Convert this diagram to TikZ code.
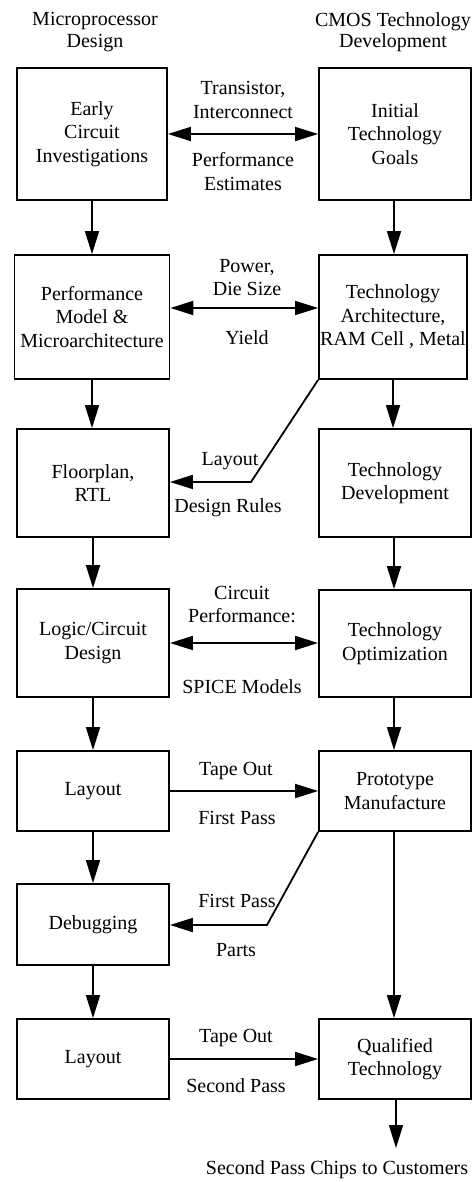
\documentclass[tikz,border=0pt]{standalone}
\usepackage{fontspec}
\setmainfont{Liberation Serif}
\usetikzlibrary{arrows.meta}
\begin{document}
\begin{tikzpicture}[x=1pt,y=-1pt,
  box/.style={draw, line width=1.8pt, inner sep=0pt, align=center, font=\fontsize{20}{23.5}\selectfont},
  lbl/.style={inner sep=0pt, align=center, font=\fontsize{20}{23.5}\selectfont},
  hdr/.style={inner sep=0pt, align=center, font=\fontsize{20}{21.5}\selectfont},
  conn/.style={line width=1.8pt, -{Triangle[length=23pt,width=14pt]}},
  biconn/.style={line width=1.8pt, {Triangle[length=23pt,width=14pt]}-{Triangle[length=23pt,width=14pt]}}]
\useasboundingbox (0,0) rectangle (476,1182);

% headers
\node[hdr] (h1) at (95,32) {Microprocessor\\Design};
\node[hdr] (h2) at (393,32) {CMOS Technology\\Development};

% left column
\node[box, minimum width=150pt, minimum height=132pt] (L1) at (92,134) {Early\\Circuit\\Investigations};
\node[box, minimum width=155pt, minimum height=124pt] (L2) at (92,317) {Performance\\Model \&\\Microarchitecture};
\node[box, minimum width=152pt, minimum height=108pt] (L3) at (93,483) {Floorplan,\\RTL};
\node[box, minimum width=152pt, minimum height=108pt] (L4) at (93,643) {Logic/Circuit\\Design};
\node[box, minimum width=152pt, minimum height=80pt] (L5) at (93,791) {Layout};
\node[box, minimum width=152pt, minimum height=81pt] (L6) at (93,924.5) {Debugging};
\node[box, minimum width=152pt, minimum height=80pt] (L7) at (93,1059) {Layout};

% right column
\node[box, minimum width=152pt, minimum height=132pt] (R1) at (395,134) {Initial\\Technology\\Goals};
\node[box, minimum width=148pt, minimum height=124pt] (R2) at (393,317) {Technology\\Architecture,\\RAM Cell , Metal};
\node[box, minimum width=152pt, minimum height=108pt] (R3) at (395,483) {Technology\\Development};
\node[box, minimum width=152pt, minimum height=107pt] (R4) at (395,643.5) {Technology\\Optimization};
\node[box, minimum width=152pt, minimum height=80pt] (R5) at (395,791) {Prototype\\Manufacture};
\node[box, minimum width=152pt, minimum height=80pt] (R7) at (395,1059) {Qualified\\Technology};

% vertical arrows left
\draw[conn] (L1.south) -- (L1.south |- L2.north);
\draw[conn] (L2.south) -- (L2.south |- L3.north);
\draw[conn] (L3.south) -- (L4.north);
\draw[conn] (L4.south) -- (L5.north);
\draw[conn] (L5.south) -- (L6.north);
\draw[conn] (L6.south) -- (L7.north);

% vertical arrows right
\coordinate (rx) at (394,0);
\draw[conn] (R1.south -| rx) -- (rx |- R2.north);
\draw[conn] (R2.south) -- (R2.south |- R3.north);
\draw[conn] (R3.south -| rx) -- (rx |- R4.north);
\draw[conn] (R4.south -| rx) -- (rx |- R5.north);
\draw[conn] (R5.south -| rx) -- (rx |- R7.north);
\coordinate (out) at (396,1148);
\draw[conn] (R7.south -| out) -- (out);

% horizontal arrows
\draw[biconn] (L1.east) -- (R1.west);
\draw[biconn] ([yshift=9pt]L2.east) -- ([yshift=9pt]L2.east -| R2.west);
\draw[biconn] (L4.east) -- (L4.east -| R4.west);
\draw[conn] (L5.east) -- (R5.west);
\draw[conn] (L7.east) -- (R7.west);

% diagonal feedback arrows
\coordinate (k1) at (251,482);
\draw[conn] (R2.south west) -- (k1) -- (k1 -| L3.east);
\coordinate (k2) at (267,925);
\draw[conn] (R5.south west) -- (k2) -- (k2 -| L6.east);

% labels
\node[lbl] (a1) at (243,100) {Transistor,\\Interconnect};
\node[lbl] (a2) at (243,171.5) {Performance\\Estimates};
\node[lbl] (b1) at (247,277.5) {Power,\\Die Size};
\node[lbl] (b2) at (247,338) {Yield};
\node[lbl] (c1) at (230,461) {Layout};
\node[lbl] (c2) at (228,508) {Design Rules};
\node[lbl] (d1) at (242,604.5) {Circuit\\Performance:};
\node[lbl] (d2) at (242,687) {SPICE Models};
\node[lbl] (e1) at (236,771) {Tape Out};
\node[lbl] (e2) at (237,818) {First Pass};
\node[lbl] (f1) at (237,901) {First Pass};
\node[lbl] (f2) at (236,950) {Parts};
\node[lbl] (g1) at (236,1038) {Tape Out};
\node[lbl] (g2) at (236,1086) {Second Pass};
\node[lbl] (z) at (337,1170) {Second Pass Chips to Customers};
\end{tikzpicture}
\end{document}
